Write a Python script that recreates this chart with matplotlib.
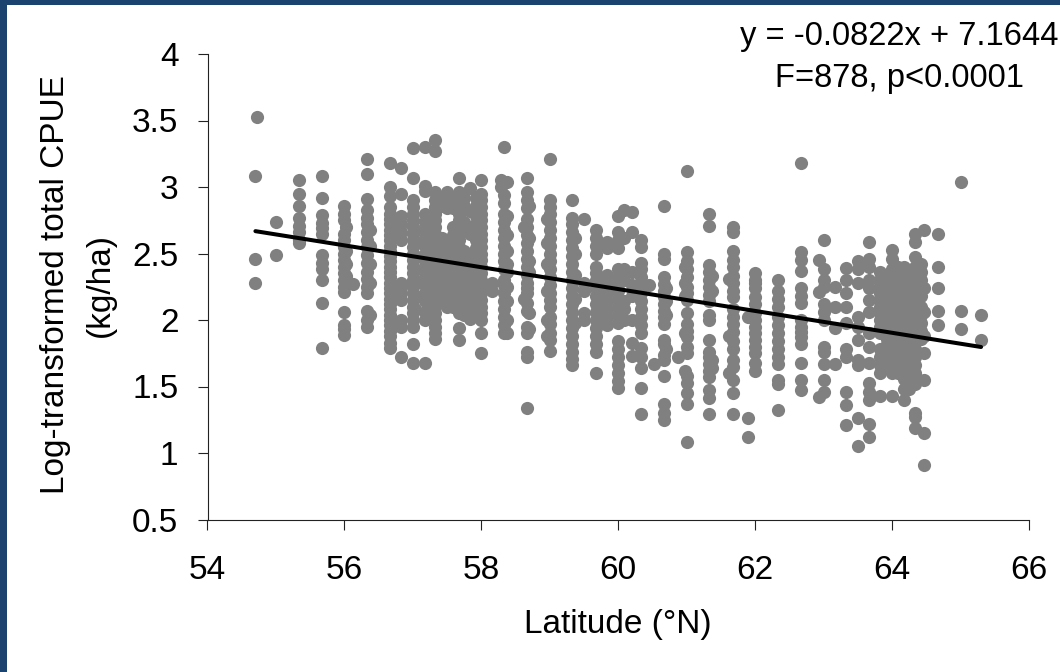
import matplotlib
matplotlib.use("Agg")
import matplotlib.pyplot as plt
from matplotlib.patches import Rectangle

X_LABEL = "Latitude (°N)"
EQUATION = "y = -0.0822x + 7.1644"
STATS = "F=878, p<0.0001"
X_TICKS = [54, 56, 58, 60, 62, 64, 66]
Y_TICKS = [0.5, 1, 1.5, 2, 2.5, 3, 3.5, 4]
Y_TICK_LABELS = ["0.5", "1", "1.5", "2", "2.5", "3", "3.5", "4"]
TREND_X = [54.7, 65.3]
TREND_Y = [2.668, 1.797]

# (latitude, [values]) columns
lat_west = [
    (54.70, [3.08, 2.46, 2.28]),
    (54.73, [3.53]),
    (55.00, [2.74, 2.49]),
    (55.33, [3.05, 2.95, 2.86, 2.77, 2.71, 2.66, 2.60, 2.58]),
    (55.67, [3.08, 2.92, 2.79, 2.73, 2.69, 2.65, 2.49, 2.43, 2.38, 2.30, 2.13, 1.79]),
    (56.00, [2.86, 2.80, 2.75, 2.65, 2.60, 2.55, 2.50, 2.45, 2.40, 2.35, 2.30, 2.25, 2.21, 2.06, 1.96, 1.93, 1.89]),
    (56.03, [2.70, 2.52, 2.42, 2.33]),
    (56.12, [2.27]),
    (56.33, [3.21, 3.10, 2.91, 2.83, 2.77, 2.72, 2.66, 2.60, 2.55, 2.49, 2.43, 2.36, 2.31, 2.25, 2.20, 2.07, 2.00, 1.95]),
    (56.37, [2.68, 2.56, 2.42, 2.28, 2.04]),
    (56.67, [3.18, 3.00, 2.93, 2.85, 2.80, 2.76, 2.72, 2.68, 2.64, 2.60, 2.56, 2.52, 2.48, 2.44, 2.40, 2.36, 2.32,
             2.28, 2.24, 2.20, 2.16, 2.12, 2.08, 2.04, 2.00, 1.96, 1.92, 1.88, 1.83, 1.79]),
    (56.83, [3.14, 2.95, 2.78, 2.72, 2.66, 2.60, 2.28, 2.25, 2.20, 2.15, 2.00, 1.95, 1.72]),
    (57.00, [3.29, 3.07, 2.90, 2.85, 2.80, 2.75, 2.70, 2.65, 2.60, 2.55, 2.50, 2.45, 2.40, 2.35, 2.30, 2.25, 2.20,
             2.15, 2.10, 2.05, 2.00, 1.95, 1.82, 1.68]),
    (57.03, [2.68, 2.58, 2.48, 2.38, 2.28, 2.18, 2.08]),
    (57.17, [3.30, 3.01, 2.97, 2.80, 2.74, 2.68, 2.62, 2.56, 2.50, 2.44, 2.38, 2.32, 2.26, 2.20, 2.14, 2.06, 2.00, 1.68]),
]

lat_mid_a = [
    (57.33, [3.35, 3.27, 2.96, 2.90, 2.85, 2.80, 2.75, 2.70, 2.65, 2.60, 2.55, 2.50, 2.45, 2.40, 2.35, 2.30, 2.25,
             2.20, 2.15, 2.10, 2.05, 2.00, 1.95, 1.90, 1.86]),
    (57.42, [2.92, 2.86, 2.62, 2.56, 2.50, 2.44, 2.38, 2.32, 2.26, 2.20, 2.14]),
    (57.50, [2.96, 2.90, 2.84, 2.60, 2.55, 2.50, 2.45, 2.40, 2.35, 2.30, 2.25, 2.20, 2.15, 2.10]),
    (57.58, [2.90, 2.84, 2.70, 2.64, 2.58, 2.52, 2.46, 2.40, 2.34, 2.28, 2.22, 2.16, 2.10]),
    (57.67, [3.07, 2.96, 2.90, 2.85, 2.80, 2.75, 2.70, 2.65, 2.60, 2.55, 2.50, 2.45, 2.40, 2.35, 2.30, 2.25, 2.20,
             2.15, 2.10, 2.05, 1.94, 1.85]),
    (57.75, [2.92, 2.86, 2.74, 2.68, 2.52, 2.46, 2.40, 2.34, 2.28, 2.22, 2.16, 2.10, 2.04]),
    (57.83, [2.99, 2.82, 2.70, 2.65, 2.50, 2.45, 2.40, 2.35, 2.28, 2.24, 2.20, 2.15, 2.10, 2.01]),
    (57.92, [2.92, 2.86, 2.78, 2.72, 2.66, 2.60, 2.54, 2.48, 2.42, 2.36, 2.30, 2.24, 2.18, 2.12, 2.06]),
    (58.00, [3.05, 2.95, 2.90, 2.85, 2.80, 2.75, 2.70, 2.65, 2.60, 2.55, 2.50, 2.45, 2.40, 2.35, 2.30, 2.25, 2.20,
             2.15, 2.10, 2.05, 2.00, 1.90, 1.75]),
    (58.15, [2.28, 2.22]),
    (58.28, [3.05, 3.00]),
    (58.33, [3.30, 2.94, 2.88, 2.80, 2.74, 2.68, 2.62, 2.56, 2.50, 2.44, 2.38, 2.30, 2.26, 2.20, 2.14, 2.08, 2.02,
             1.96, 1.90]),
    (58.38, [3.04, 1.90, 2.42, 2.25, 2.78, 2.64, 2.52, 2.36, 2.14, 2.00]),
    (58.62, [2.70, 2.16]),
    (58.67, [3.07, 2.96, 2.90, 2.84, 2.76, 2.70, 2.64, 2.58, 2.52, 2.46, 2.40, 2.34, 2.28, 2.24, 2.20, 2.13, 2.07,
             1.95, 1.90, 1.76, 1.72, 1.34]),
    (58.70, [2.86, 2.62, 2.44, 2.36, 2.05, 1.93]),
    (59.00, [3.21, 2.90, 2.85, 2.80, 2.74, 2.68, 2.62, 2.56, 2.50, 2.44, 2.38, 2.32, 2.26, 2.20, 2.15, 2.10, 2.02,
             1.97, 1.90, 1.85, 1.77]),
    (58.96, [2.76, 2.58, 2.42, 2.22, 2.00, 1.88]),
    (59.33, [2.90, 2.77, 2.72, 2.66, 2.60, 2.54, 2.48, 2.42, 2.36, 2.30, 2.24, 2.18, 2.12, 2.06, 2.00, 1.94, 1.88,
             1.82, 1.76, 1.71, 1.66]),
    (59.37, [2.62, 2.50, 2.34, 2.16, 1.98]),
    (59.50, [2.76, 2.28, 2.22, 2.05, 2.00]),
]

lat_mid_b = [
    (59.67, [2.68, 2.62, 2.56, 2.50, 2.40, 2.35, 2.30, 2.24, 2.18, 2.12, 2.06, 2.00, 1.94, 1.88, 1.82, 1.76, 1.60]),
    (59.83, [2.59, 2.54, 2.34, 2.28, 2.20, 2.14, 2.08, 2.02, 1.96]),
    (60.00, [2.78, 2.66, 2.60, 2.54, 2.38, 2.32, 2.26, 2.22, 2.16, 2.10, 2.04, 1.98, 1.84, 1.78, 1.72, 1.66, 1.60,
             1.54, 1.49]),
    (60.08, [2.83, 2.62, 2.38, 2.30, 2.14, 2.08, 2.00]),
    (60.20, [2.81, 2.66, 2.36, 2.26, 2.18, 2.00, 1.83, 1.73]),
    (60.33, [2.60, 2.55, 2.43, 2.38, 2.32, 2.27, 2.20, 2.14, 2.08, 2.02, 1.96, 1.90, 1.79, 1.72, 1.64, 1.49, 1.29]),
    (60.45, [2.26]),
    (60.52, [1.67]),
    (60.67, [2.86, 2.50, 2.46, 2.32, 2.27, 2.22, 2.17, 2.12, 2.07, 2.02, 1.97, 1.85, 1.82, 1.74, 1.70, 1.58, 1.37,
             1.30, 1.25]),
    (60.70, [2.24, 2.14, 2.04, 1.78]),
    (61.00, [3.12, 2.51, 2.44, 2.38, 2.32, 2.25, 2.20, 2.15, 2.05, 1.97, 1.92, 1.87, 1.80, 1.75, 1.58, 1.53, 1.45, 1.37, 1.08]),
    (60.97, [2.40, 2.28, 2.18, 1.90, 1.62]),
    (60.87, [1.72]),
    (61.33, [2.80, 2.71, 2.41, 2.36, 2.30, 2.25, 2.19, 2.14, 2.04, 2.00, 1.85, 1.76, 1.72, 1.67, 1.62, 1.57, 1.47,
             1.41, 1.29]),
    (61.37, [2.33, 2.22, 1.70, 1.64]),
    (61.67, [2.70, 2.66, 2.52, 2.45, 2.40, 2.33, 2.28, 2.22, 2.17, 2.08, 2.02, 1.97, 1.91, 1.84, 1.78, 1.70, 1.65,
             1.55, 1.45, 1.29]),
    (61.62, [1.60, 1.88, 2.31]),
    (61.90, [2.02, 1.26, 1.12]),
    (62.00, [2.35, 2.30, 2.28, 2.24, 2.17, 2.12, 2.05, 2.00, 1.95, 1.90, 1.85, 1.80, 1.75, 1.68, 1.62]),
    (62.33, [2.30, 2.22, 2.16, 2.10, 2.02, 1.96, 1.90, 1.84, 1.78, 1.72, 1.67, 1.55, 1.52, 1.32]),
    (62.67, [3.18, 2.51, 2.45, 2.37, 2.24, 2.18, 2.13, 2.00, 1.95, 1.91, 1.87, 1.82, 1.68, 1.55, 1.47]),
    (63.00, [2.60, 2.38, 2.30, 2.25, 2.12, 2.06, 2.00, 1.80, 1.76, 1.67, 1.55, 1.46]),
    (62.93, [2.45, 2.21, 1.42]),
]

lat_east = [
    (63.17, [2.25, 2.10, 1.94, 1.67]),
    (63.33, [2.39, 2.30, 2.20, 2.10, 1.98, 1.78, 1.72, 1.46, 1.36, 1.21]),
    (63.50, [2.44, 2.38, 2.28, 2.02, 1.95, 1.85, 1.70, 1.66, 1.26, 1.05]),
    (63.67, [2.59, 2.46, 2.40, 2.30, 2.24, 2.15, 2.06, 1.90, 1.80, 1.68, 1.53, 1.46, 1.40, 1.22, 1.12]),
    (63.83, [2.36, 2.30, 2.25, 2.20, 2.15, 2.10, 2.05, 2.00, 1.95, 1.90, 1.78, 1.72, 1.66, 1.60, 1.43]),
    (63.92, [2.34, 2.28, 2.22, 2.16, 2.10, 2.04, 1.98, 1.92, 1.86, 1.82, 1.76, 1.70, 1.64]),
    (64.00, [2.53, 2.46, 2.38, 2.32, 2.26, 2.20, 2.14, 2.08, 2.02, 1.96, 1.90, 1.84, 1.78, 1.72, 1.66, 1.60, 1.43]),
    (64.08, [2.40, 2.35, 2.28, 2.22, 2.16, 2.10, 2.04, 1.98, 1.92, 1.86, 1.82, 1.78, 1.72, 1.66, 1.60]),
    (64.17, [2.40, 2.34, 2.28, 2.22, 2.16, 2.10, 2.04, 1.98, 1.92, 1.86, 1.80, 1.74, 1.68, 1.62, 1.56, 1.48, 1.40]),
    (64.25, [2.33, 2.27, 2.21, 2.15, 2.09, 2.03, 1.97, 1.90, 1.84, 1.78, 1.72, 1.66, 1.60, 1.54, 1.48]),
    (64.33, [2.65, 2.59, 2.47, 2.40, 2.34, 2.28, 2.22, 2.16, 2.10, 2.04, 1.98, 1.92, 1.86, 1.78, 1.72, 1.66, 1.60, 1.52,
             1.30, 1.27, 1.19]),
    (64.42, [2.42, 2.36, 2.30, 2.24, 2.18, 2.10, 2.04, 1.98, 1.92, 1.86]),
    (64.47, [2.68, 2.24, 2.06, 1.88, 1.75, 1.55, 1.15, 0.91]),
    (64.67, [2.65, 2.40, 2.24, 2.07, 1.96]),
    (65.00, [3.04, 2.07, 1.93]),
    (65.30, [2.04, 1.85]),
]

lats = []
vals = []
for group in (lat_west, lat_mid_a, lat_mid_b, lat_east):
    for lat, values in group:
        lats.extend([lat] * len(values))
        vals.extend(values)

plt.rcParams["font.family"] = ["Liberation Sans", "DejaVu Sans"]
W, H = 1060, 672
fig = plt.figure(figsize=(W / 100, H / 100), dpi=100, facecolor="white")
ax = fig.add_axes([207.5 / W, 1 - 519.5 / H, (1029 - 207.5) / W, (519.5 - 54) / H])
ax.set_xlim(54, 66)
ax.set_ylim(0.5, 4)
ax.scatter(lats, vals, s=90, c="#808080", linewidths=0, zorder=3, clip_on=False)
ax.plot(TREND_X, TREND_Y, color="black", lw=2.9, solid_capstyle="round", zorder=4)

for side in ("top", "right"):
    ax.spines[side].set_visible(False)
for side in ("left", "bottom"):
    ax.spines[side].set_linewidth(0.8)
    ax.spines[side].set_color("#222222")
ax.set_xticks(X_TICKS)
ax.set_yticks(Y_TICKS)
ax.set_yticklabels(Y_TICK_LABELS)
ax.tick_params(axis="both", direction="out", length=7.4, width=0.8, color="#222222",
               labelsize=24, labelcolor="black")
ax.tick_params(axis="x", pad=18.5)
ax.tick_params(axis="y", pad=13.5)

fig.text(56 / W, 1 - 285 / H, "Log-transformed total CPUE", rotation=90, fontsize=24,
         ha="center", va="center")
fig.text(100 / W, 1 - 285 / H, "(kg/ha)", rotation=90, fontsize=24, ha="center", va="center")
fig.text(618 / W, 1 - 633 / H, X_LABEL, fontsize=24, ha="center", va="baseline")
fig.text(899.5 / W, 1 - 45 / H, EQUATION, fontsize=23.6, ha="center", va="baseline")
fig.text(899.5 / W, 1 - 87 / H, STATS, fontsize=23.6, ha="center", va="baseline")

border = "#1B4370"
fig.add_artist(Rectangle((0, 0), 7 / W, 1, transform=fig.transFigure, color=border, lw=0))
fig.add_artist(Rectangle((0, 1 - 5 / H), 1, 5 / H, transform=fig.transFigure, color=border, lw=0))

fig.savefig("out.png", dpi=100, facecolor="white")
